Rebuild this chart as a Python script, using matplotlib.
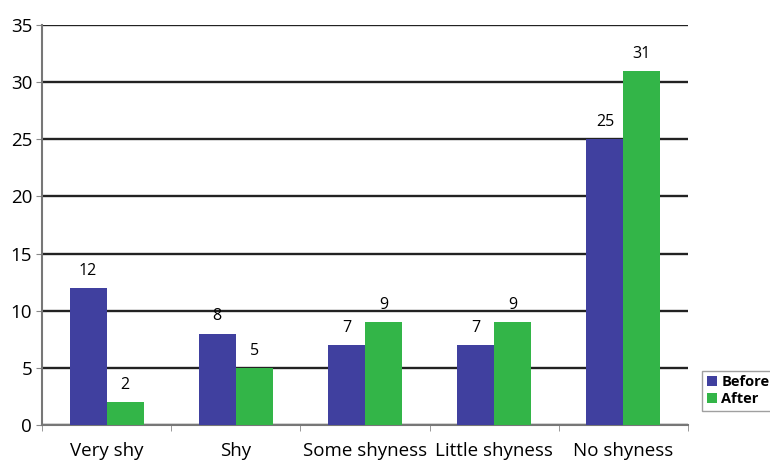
import matplotlib
matplotlib.use("Agg")
import matplotlib.pyplot as plt
import numpy as np

categories = ["Very shy", "Shy", "Some shyness", "Little shyness", "No shyness"]
before = [12, 8, 7, 7, 25]
after = [2, 5, 9, 9, 31]
yticks = [0, 5, 10, 15, 20, 25, 30, 35]

plt.rcParams['font.family'] = ['Open Sans', 'DejaVu Sans']

fig = plt.figure(figsize=(7.7, 4.62), dpi=100)
ax = fig.add_axes([0.0545, 0.080, 0.839, 0.866])

x = np.arange(len(categories))
w = 0.286
blue = "#40409f"
green = "#33b548"
b1 = ax.bar(x - w/2, before, w, color=blue, label="Before", zorder=3)
b2 = ax.bar(x + w/2, after, w, color=green, label="After", zorder=3)

for xi, v in zip(x - w/2, before):
    ax.text(xi, v + 0.8, str(v), ha="center", va="bottom", fontsize=11.5)
for xi, v in zip(x + w/2, after):
    ax.text(xi, v + 0.8, str(v), ha="center", va="bottom", fontsize=11.5)

ax.set_xlim(-0.5, len(categories) - 0.5)
ax.set_ylim(0, 35)
ax.set_yticks(yticks)
ax.set_yticklabels([str(t) for t in yticks], fontsize=13.5)
ax.yaxis.grid(True, color="#222222", linewidth=1.7, zorder=0)
ax.set_axisbelow(True)

ax.set_xticks(x)
ax.set_xticklabels(categories, fontsize=13.5)
ax.tick_params(axis="x", length=0, pad=12)
ax.set_xticks(np.arange(len(categories) + 1) - 0.5, minor=True)
ax.tick_params(axis="x", which="minor", length=4, color="#888888")
ax.tick_params(axis="y", length=4, color="#888888", pad=3)

for s in ["top", "right"]:
    ax.spines[s].set_visible(False)
ax.spines["left"].set_color("#777777")
ax.spines["left"].set_linewidth(1.5)
ax.spines["bottom"].set_color("#777777")
ax.spines["bottom"].set_linewidth(1.5)

leg = fig.legend(handles=[b1, b2], labels=["Before", "After"], loc="upper left",
                 bbox_to_anchor=(0.912, 0.197), frameon=True, fancybox=False,
                 fontsize=10.5, handlelength=0.7, handleheight=0.7,
                 handletextpad=0.3, borderpad=0.3, labelspacing=0.2,
                 borderaxespad=0)
leg.get_frame().set_edgecolor("#888888")
leg.get_frame().set_linewidth(1.0)
for t in leg.get_texts():
    t.set_fontweight("bold")

fig.savefig("out.png", dpi=100)
